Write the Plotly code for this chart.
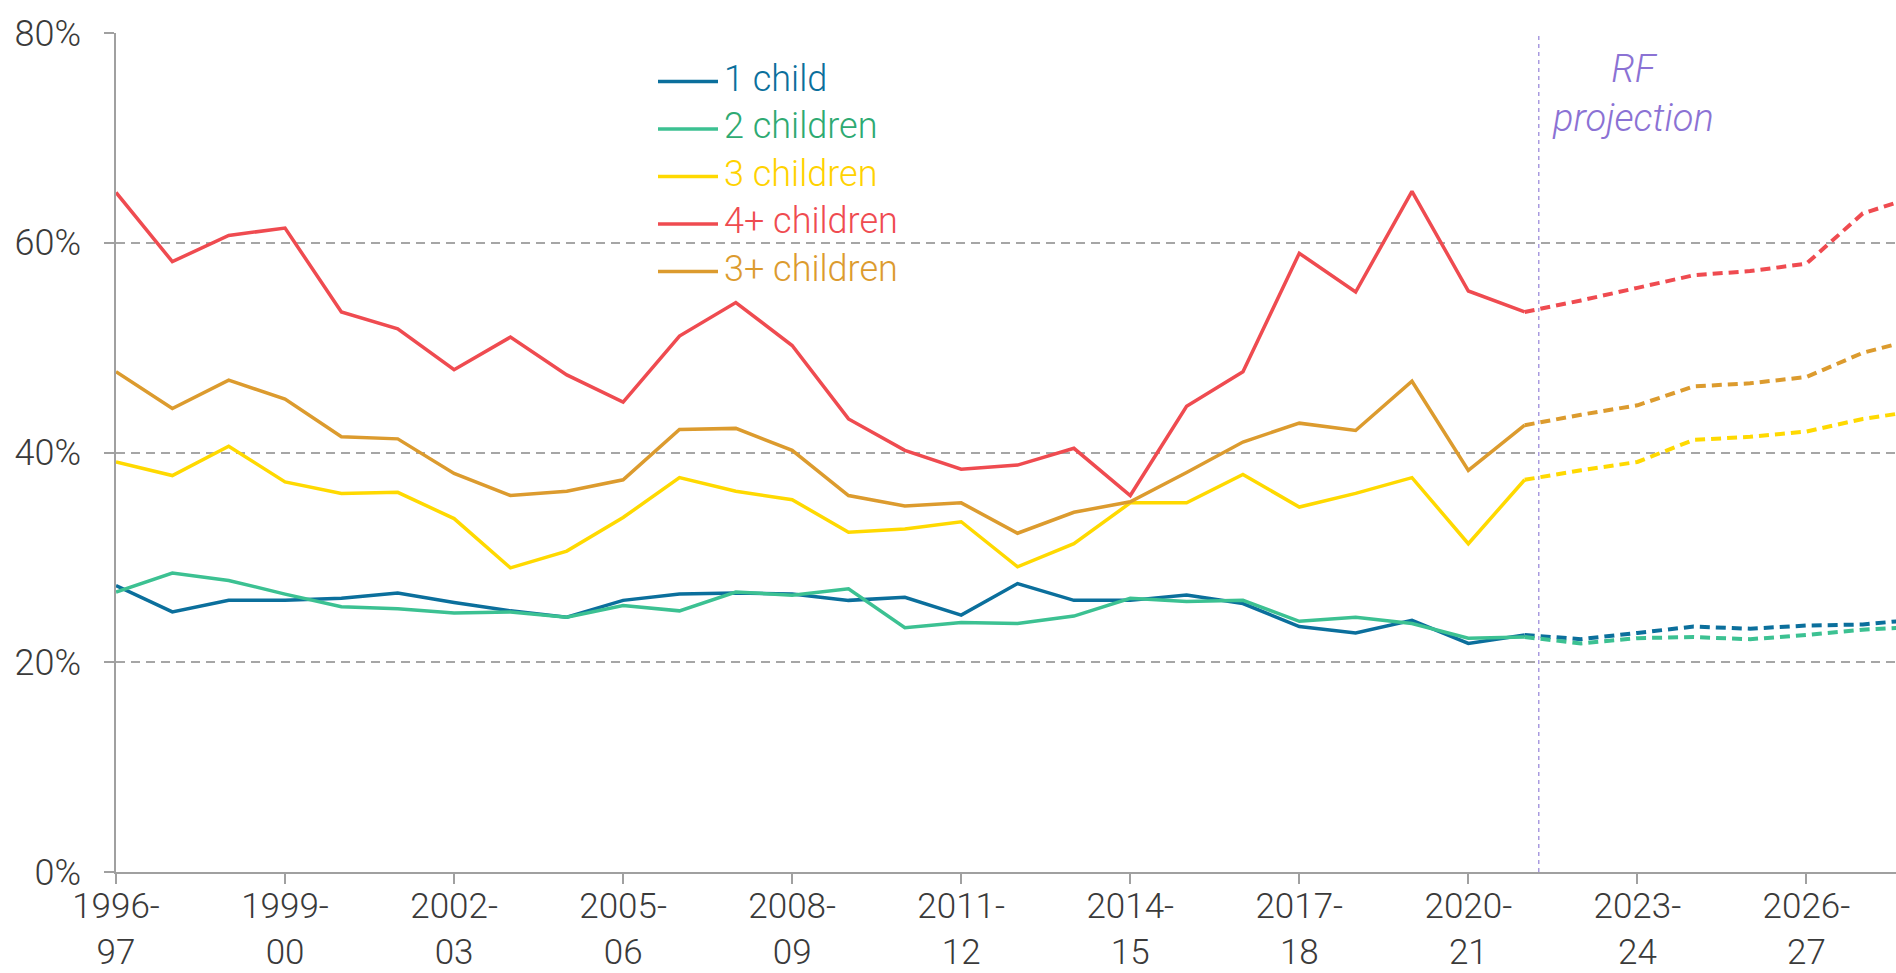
import plotly.graph_objects as go

years = ["1996-97", "1997-98", "1998-99", "1999-00", "2000-01", "2001-02", "2002-03",
         "2003-04", "2004-05", "2005-06", "2006-07", "2007-08", "2008-09", "2009-10",
         "2010-11", "2011-12", "2012-13", "2013-14", "2014-15", "2015-16", "2016-17",
         "2017-18", "2018-19", "2019-20", "2020-21", "2021-22", "2022-23", "2023-24",
         "2024-25", "2025-26", "2026-27", "2027-28", "2028-29"]

# Historical (1996-97 to 2021-22)
one_child = [27.3, 24.8, 25.9, 25.9, 26.1, 26.6, 25.7, 24.9, 24.3, 25.9, 26.5, 26.6, 26.5,
             25.9, 26.2, 24.5, 27.5, 25.9, 25.9, 26.4, 25.6, 23.4, 22.8, 24.0, 21.8, 22.6]
two_children = [26.7, 28.5, 27.8, 26.5, 25.3, 25.1, 24.7, 24.8, 24.3, 25.4, 24.9, 26.7, 26.4,
                27.0, 23.3, 23.8, 23.7, 24.4, 26.1, 25.8, 25.9, 23.9, 24.3, 23.7, 22.3, 22.4]
three_children = [39.1, 37.8, 40.6, 37.2, 36.1, 36.2, 33.7, 29.0, 30.6, 33.8, 37.6, 36.3, 35.5,
                  32.4, 32.7, 33.4, 29.1, 31.3, 35.2, 35.2, 37.9, 34.8, 36.1, 37.6, 31.3, 37.4]
four_plus = [64.8, 58.2, 60.7, 61.4, 53.4, 51.8, 47.9, 51.0, 47.4, 44.8, 51.1, 54.3, 50.2,
             43.2, 40.2, 38.4, 38.8, 40.4, 35.9, 44.4, 47.7, 59.0, 55.3, 64.9, 55.4, 53.4]
three_plus = [47.7, 44.2, 46.9, 45.1, 41.5, 41.3, 38.0, 35.9, 36.3, 37.4, 42.2, 42.3, 40.2,
              35.9, 34.9, 35.2, 32.3, 34.3, 35.3, 38.1, 41.0, 42.8, 42.1, 46.8, 38.3, 42.6]

# RF projection (2021-22 to 2028-29)
one_child_proj = [22.6, 22.2, 22.8, 23.4, 23.2, 23.5, 23.6, 24.1]
two_children_proj = [22.4, 21.8, 22.3, 22.4, 22.2, 22.6, 23.1, 23.4]
three_children_proj = [37.4, 38.3, 39.1, 41.2, 41.5, 42.0, 43.2, 44.0]
four_plus_proj = [53.4, 54.5, 55.7, 56.9, 57.3, 58.0, 62.8, 64.5]
three_plus_proj = [42.6, 43.6, 44.5, 46.3, 46.6, 47.2, 49.5, 50.9]

series_names = ["1 child", "2 children", "3 children", "4+ children", "3+ children"]
line_colors = ["#0b6f9c", "#3cc192", "#ffd900", "#ef4b50", "#dc9b2e"]
text_colors = ["#0b6f9c", "#2eaa72", "#ffd200", "#ef4b50", "#dc9b2e"]
tick_years = ["1996-97", "1999-00", "2002-03", "2005-06", "2008-09", "2011-12",
              "2014-15", "2017-18", "2020-21", "2023-24", "2026-27"]
y_ticks = [0, 20, 40, 60, 80]

x_num = [int(y[:4]) for y in years]
n_hist = len(one_child)
x_hist = x_num[:n_hist]
x_proj = x_num[n_hist - 1:]

hist = [one_child, two_children, three_children, four_plus, three_plus]
proj = [one_child_proj, two_children_proj, three_children_proj, four_plus_proj, three_plus_proj]

FONT = "Roboto, Lato, 'Open Sans', sans-serif"
WT = 300
W, H = 1896, 973
ML, MR, MT, MB = 116, 0, 33, 101
PW, PH = W - ML - MR, H - MT - MB


def px_x(px):
    return (px - ML) / PW


def px_y(py):
    return (H - MB - py) / PH


fig = go.Figure()
for name, h, p, lc in zip(series_names, hist, proj, line_colors):
    fig.add_trace(go.Scatter(
        x=x_hist, y=h, mode="lines", line=dict(color=lc, width=3.5),
        name=name, showlegend=False, hoverinfo="skip"))
    fig.add_trace(go.Scatter(
        x=x_proj, y=p, mode="lines", line=dict(color=lc, width=4, dash="10px,6px"),
        showlegend=False, hoverinfo="skip"))

# Legend (drawn as lines + labels)
leg_top, leg_step = 81.5, 47.5
for i, (name, lc, tc) in enumerate(zip(series_names, line_colors, text_colors)):
    yy = px_y(leg_top + i * leg_step)
    fig.add_shape(type="line", xref="paper", yref="paper", x0=px_x(658), x1=px_x(718),
                  y0=yy, y1=yy, line=dict(color=lc, width=3.5))
    fig.add_annotation(x=px_x(722), y=yy + 0.003, xref="paper", yref="paper", text=name,
                       showarrow=False, xanchor="left", yanchor="middle",
                       font=dict(family=FONT, size=36, color=tc, weight=WT))

proj_x = 2021.25
fig.add_shape(type="line", xref="x", yref="y", x0=proj_x, x1=proj_x, y0=0, y1=80,
              line=dict(color="#a99be0", width=1.5, dash="4px,4px"), layer="below")
fig.add_annotation(x=2022.92, y=74.2, xref="x", yref="y", text="<i>RF<br>projection</i>",
                   showarrow=False, font=dict(family=FONT, size=38, color="#8b72d4", weight=WT),
                   align="center")

fig.update_layout(
    width=W, height=H,
    margin=dict(l=ML, r=MR, t=MT, b=MB, autoexpand=False),
    paper_bgcolor="white", plot_bgcolor="white",
    font=dict(family=FONT, size=36, color="#3a3a3a", weight=WT),
    showlegend=False,
)
fig.update_xaxes(
    range=[1996, 2027.59], tickmode="array",
    tickvals=[int(t[:4]) for t in tick_years],
    ticktext=[f"{t[:5]}<br>{t[5:]}" for t in tick_years],
    ticks="outside", ticklen=10, tickcolor="#a0a0a0", tickwidth=1.5,
    showline=True, linecolor="#a0a0a0", linewidth=2,
    showgrid=False, zeroline=False, automargin=False, ticklabelstandoff=-8,
    tickfont=dict(family=FONT, size=35, color="#3a3a3a", weight=WT),
)
fig.update_yaxes(
    range=[0, 80], tickmode="array", tickvals=y_ticks,
    ticktext=[f"{v}%" for v in y_ticks],
    ticks="outside", ticklen=10, tickcolor="#a0a0a0", tickwidth=1.5,
    showline=True, linecolor="#a0a0a0", linewidth=1.5,
    showgrid=True, gridcolor="#a6a6a6", gridwidth=2, griddash="9px,6px",
    zeroline=False, ticklabelstandoff=16, automargin=False,
    tickfont=dict(family=FONT, size=36, color="#3a3a3a", weight=WT),
)
fig.write_html("out.html", config={"displayModeBar": False},
               post_script="document.body.style.margin='0';")
